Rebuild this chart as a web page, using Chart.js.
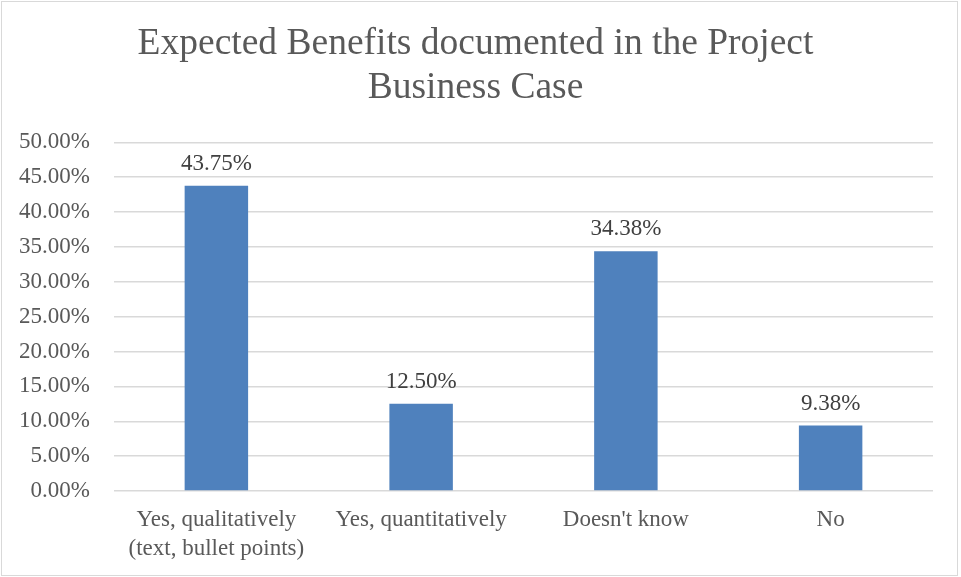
<!DOCTYPE html>
<html><head><meta charset="utf-8">
<script src="https://cdn.jsdelivr.net/npm/chart.js@4/dist/chart.umd.min.js"></script>
<style>
html,body{margin:0;padding:0;background:#fff;}
#wrap{position:absolute;left:0;top:0;width:961px;height:577px;}
#frame{position:absolute;left:1px;top:1px;width:957px;height:575px;border:1px solid #d9d9d9;box-sizing:border-box;pointer-events:none;}
</style></head><body>
<div id="wrap"><canvas id="c" width="961" height="577"></canvas><div id="frame"></div></div>
<script>
const categories = [["Yes, qualitatively","(text, bullet points)"], "Yes, quantitatively", "Doesn't know", "No"];
const values = [43.75, 12.50, 34.38, 9.38];
const titleLines = ["Expected Benefits documented in the Project", "Business Case"];

const FONT = '"Liberation Serif", "Times New Roman", serif';

const labelPlugin = {
  id: 'barLabels',
  afterDatasetsDraw(chart) {
    const ctx = chart.ctx;
    const meta = chart.getDatasetMeta(0);
    ctx.save();
    ctx.font = '23px ' + FONT;
    ctx.fillStyle = '#404040';
    ctx.textAlign = 'center';
    ctx.textBaseline = 'alphabetic';
    meta.data.forEach((bar, i) => {
      ctx.fillText(values[i].toFixed(2) + '%', bar.x, bar.y - 16);
    });
    ctx.restore();
  }
};

new Chart(document.getElementById('c'), {
  type: 'bar',
  data: {
    labels: categories,
    datasets: [{
      data: values,
      backgroundColor: '#4f81bd',
      borderWidth: 0,
      barPercentage: 0.31,
      categoryPercentage: 1.0
    }]
  },
  options: {
    responsive: false,
    animation: false,
    devicePixelRatio: 1,
    layout: { padding: { left: 18, right: 28, top: 0, bottom: 0 } },
    plugins: {
      legend: { display: false },
      tooltip: { enabled: false },
      title: {
        display: true,
        text: titleLines,
        color: '#595959',
        font: { family: FONT, size: 37.5, weight: 'normal', lineHeight: 1.15 },
        padding: { top: 23, bottom: 33 }
      }
    },
    scales: {
      x: {
        grid: { display: false, drawTicks: false },
        border: { display: false },
        ticks: {
          color: '#595959',
          font: { family: FONT, size: 23, lineHeight: 1.27 },
          maxRotation: 0,
          autoSkip: false,
          padding: 14
        },
        afterFit(scale) { scale.height = 86; scale.paddingLeft = 0; scale.paddingRight = 0; }
      },
      y: {
        min: 0, max: 50,
        grid: { color: '#d9d9d9', lineWidth: 1.5, drawTicks: false },
        border: { display: false },
        ticks: {
          stepSize: 5,
          color: '#595959',
          font: { family: FONT, size: 23 },
          padding: 24,
          callback: v => v.toFixed(2) + '%'
        },
        afterFit(scale) { scale.width = 96; }
      }
    }
  },
  plugins: [labelPlugin]
});
</script>
</body></html>
